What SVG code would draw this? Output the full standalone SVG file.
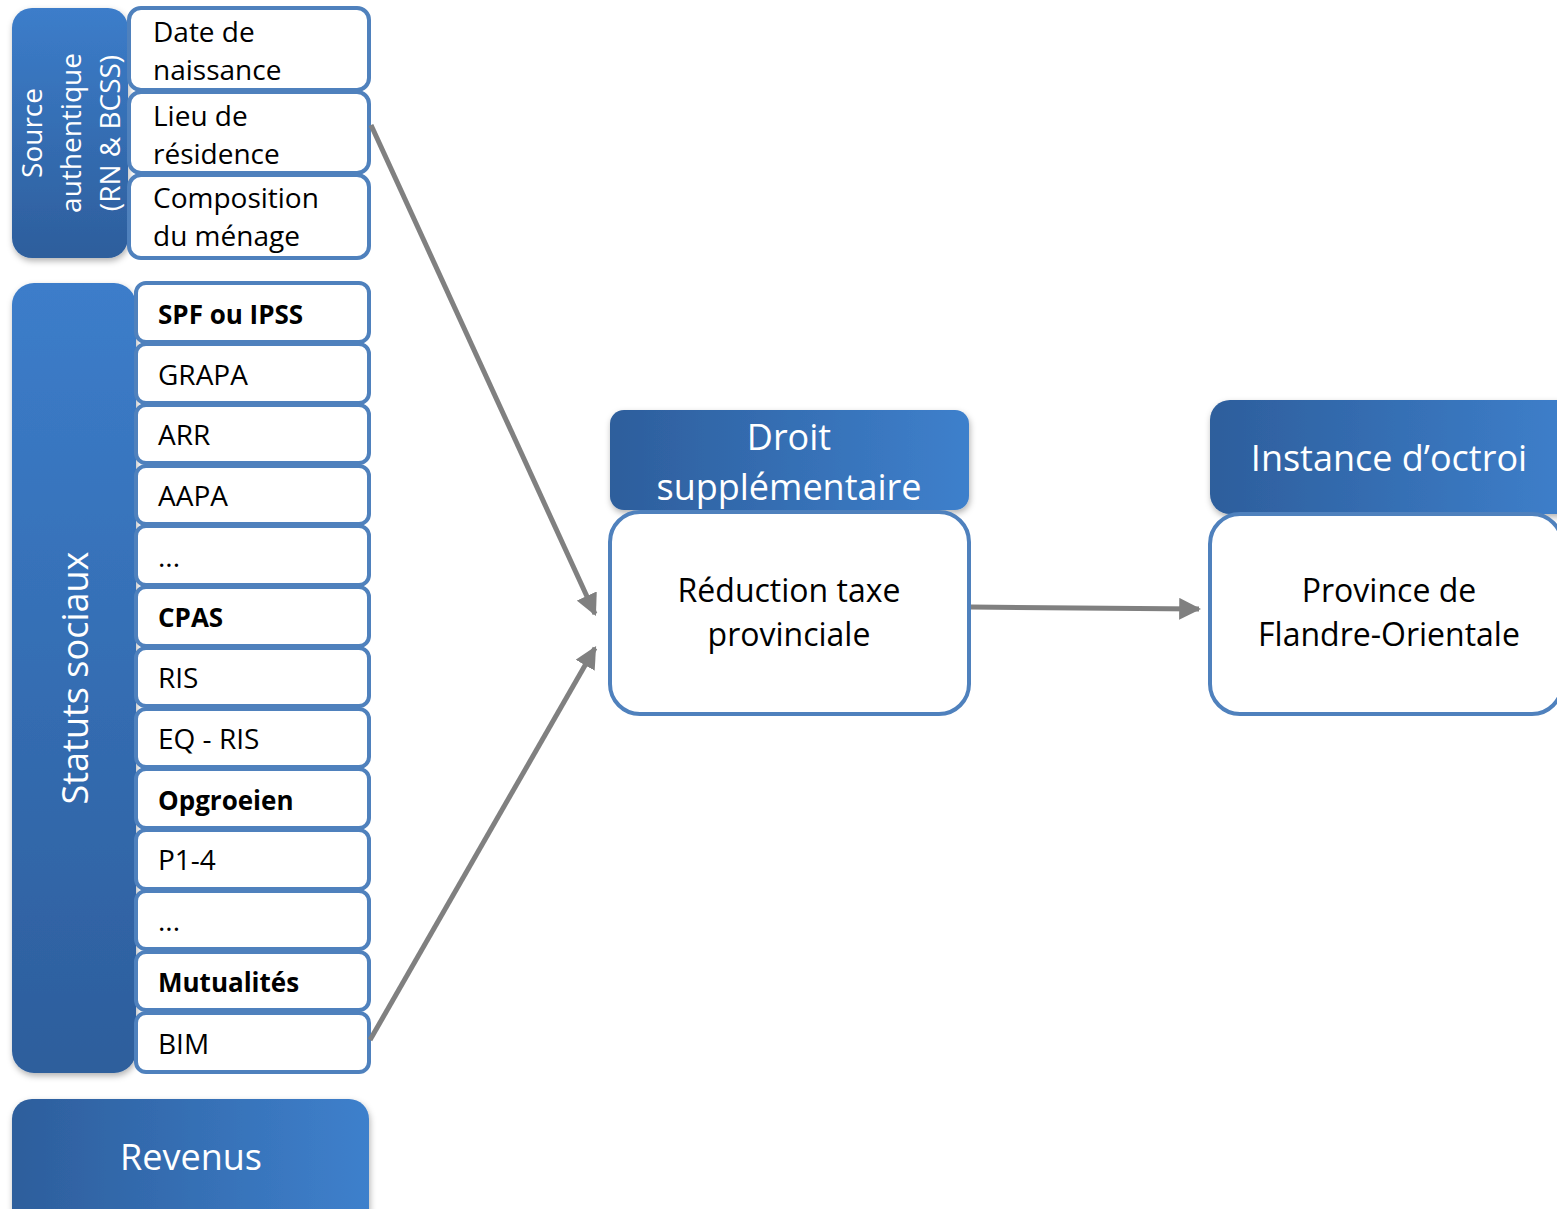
<svg xmlns="http://www.w3.org/2000/svg" width="1557" height="1209" viewBox="0 0 1557 1209">
<defs>
<linearGradient id="gv" x1="0" y1="0" x2="0" y2="1"><stop offset="0" stop-color="#3c7dca"/><stop offset="1" stop-color="#2d5e9c"/></linearGradient>
<linearGradient id="gh" x1="0" y1="0" x2="1" y2="0"><stop offset="0" stop-color="#2d5e9c"/><stop offset="1" stop-color="#3e80cc"/></linearGradient>
<filter id="sh" x="-10%" y="-10%" width="130%" height="130%"><feDropShadow dx="1" dy="3" stdDeviation="3" flood-color="#000" flood-opacity="0.3"/></filter>
<marker id="ah" viewBox="0 0 10 10" refX="9" refY="5" markerWidth="4.4" markerHeight="4.4" orient="auto" markerUnits="strokeWidth"><path d="M0,0 L10,5 L0,10 z" fill="#808080"/></marker>
<style>
.t{font-family:"Open Sans","Noto Sans","Liberation Sans",sans-serif;font-size:28px;fill:#000}
.b{font-weight:bold;font-size:26px}
.m{font-size:32px}
.w{font-family:"Open Sans","Noto Sans","Liberation Sans",sans-serif;fill:#fff}
.box{fill:#fff;stroke:#4f81bd;stroke-width:4}
.c{text-anchor:middle}
.con{stroke:#808080;stroke-width:5;fill:none;marker-end:url(#ah)}
</style>
</defs>
<rect width="1557" height="1209" fill="#fff"/>

<g id="source">
<rect x="12" y="8" width="116" height="250" rx="20" fill="url(#gv)" filter="url(#sh)"/>
<text class="w c" font-size="28" transform="translate(42,133) rotate(-90)">Source</text>
<text class="w c" font-size="28" transform="translate(81,133) rotate(-90)">authentique</text>
<text class="w c" font-size="28" transform="translate(120,133) rotate(-90)">(RN &amp; BCSS)</text>
</g>
<g id="n-date"><rect class="box" x="129" y="8" width="240" height="82" rx="12"/><text class="t" x="153" y="42">Date de</text><text class="t" x="153" y="80">naissance</text></g>
<g id="n-lieu"><rect class="box" x="129" y="92" width="240" height="81" rx="12"/><text class="t" x="153" y="126">Lieu de</text><text class="t" x="153" y="164">résidence</text></g>
<g id="n-compo"><rect class="box" x="129" y="175" width="240" height="83" rx="12"/><text class="t" x="153" y="208">Composition</text><text class="t" x="153" y="246">du ménage</text></g>

<g id="statuts">
<rect x="12" y="283" width="124" height="790" rx="22" fill="url(#gv)" filter="url(#sh)"/>
<text class="w c" font-size="36" transform="translate(88,678) rotate(-90)">Statuts sociaux</text>
</g>
<g id="n-spf"><rect class="box" x="136" y="283" width="233" height="59" rx="10"/><text class="t b" x="158" y="324">SPF ou IPSS</text></g>
<g id="n-grapa"><rect class="box" x="136" y="344" width="233" height="59" rx="10"/><text class="t" x="158" y="385">GRAPA</text></g>
<g id="n-arr"><rect class="box" x="136" y="405" width="233" height="58" rx="10"/><text class="t" x="158" y="445">ARR</text></g>
<g id="n-aapa"><rect class="box" x="136" y="466" width="233" height="58" rx="10"/><text class="t" x="158" y="506">AAPA</text></g>
<g id="n-etc1"><rect class="box" x="136" y="526" width="233" height="59" rx="10"/><text class="t" x="158" y="567">...</text></g>
<g id="n-cpas"><rect class="box" x="136" y="587" width="233" height="59" rx="10"/><text class="t b" x="158" y="627">CPAS</text></g>
<g id="n-ris"><rect class="box" x="136" y="648" width="233" height="58" rx="10"/><text class="t" x="158" y="688">RIS</text></g>
<g id="n-eqris"><rect class="box" x="136" y="709" width="233" height="58" rx="10"/><text class="t" x="158" y="749">EQ - RIS</text></g>
<g id="n-opg"><rect class="box" x="136" y="769" width="233" height="59" rx="10"/><text class="t b" x="158" y="810">Opgroeien</text></g>
<g id="n-p14"><rect class="box" x="136" y="830" width="233" height="59" rx="10"/><text class="t" x="158" y="870">P1-4</text></g>
<g id="n-etc2"><rect class="box" x="136" y="891" width="233" height="58" rx="10"/><text class="t" x="158" y="931">...</text></g>
<g id="n-mut"><rect class="box" x="136" y="952" width="233" height="58" rx="10"/><text class="t b" x="158" y="992">Mutualités</text></g>
<g id="n-bim"><rect class="box" x="136" y="1013" width="233" height="59" rx="10"/><text class="t" x="158" y="1054">BIM</text></g>

<g id="revenus">
<rect x="12" y="1099" width="357" height="130" rx="20" fill="url(#gh)" filter="url(#sh)"/>
<text class="w c" font-size="36" x="191" y="1170">Revenus</text>
</g>

<g id="droit">
<rect x="610" y="410" width="359" height="100" rx="14" fill="url(#gh)" filter="url(#sh)"/>
<text class="w c" font-size="36" x="789" y="450">Droit</text>
<text class="w c" font-size="36" x="789" y="500">supplémentaire</text>
</g>
<g id="reduction">
<rect class="box" x="610" y="512" width="359" height="202" rx="30"/>
<text class="t c m" x="789" y="602">Réduction taxe</text>
<text class="t c m" x="789" y="646">provinciale</text>
</g>

<g id="instance">
<rect x="1210" y="400" width="370" height="114" rx="20" fill="url(#gh)" filter="url(#sh)"/>
<text class="w c" font-size="36" x="1389" y="471">Instance d’octroi</text>
</g>
<g id="province">
<rect class="box" x="1210" y="514" width="352" height="200" rx="30"/>
<text class="t c m" x="1389" y="602">Province de</text>
<text class="t c m" x="1389" y="646">Flandre-Orientale</text>
</g>

<g id="connectors">
<line class="con" x1="371" y1="125" x2="595" y2="614"/>
<line class="con" x1="370" y1="1040" x2="595" y2="648"/>
<line class="con" x1="971" y1="607" x2="1199" y2="609"/>
</g>
</svg>
